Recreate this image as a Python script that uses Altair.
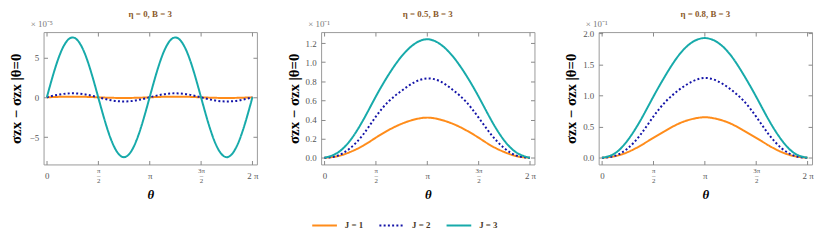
import altair as alt
import pandas as pd

# theta sample positions (radians, steps of pi/8)
theta = [0.0, 0.3927, 0.7854, 1.1781, 1.5708, 1.9635, 2.3562, 2.7489, 3.1416,
         3.5343, 3.9270, 4.3197, 4.7124, 5.1051, 5.4978, 5.8905, 6.2832]

J_labels = ["J = 1", "J = 2", "J = 3"]
panel_titles = ["η = 0, B = 3", "η = 0.5, B = 3", "η = 0.8, B = 3"]
scale_notes = ["× 10⁻⁵", "× 10⁻¹", "× 10⁻¹"]

# Panel 1 (eta = 0), values in units of 1e-5
p1_j1 = [0, 0.06, 0.08, 0.06, 0, -0.06, -0.08, -0.06, 0, 0.06, 0.08, 0.06, 0, -0.06, -0.08, -0.06, 0]
p1_j2 = [0, 0.36, 0.50, 0.36, 0, -0.37, -0.52, -0.37, 0, 0.36, 0.50, 0.36, 0, -0.37, -0.52, -0.37, 0]
p1_j3 = [0, 5.3, 7.5, 5.3, 0, -5.3, -7.5, -5.3, 0, 5.3, 7.5, 5.3, 0, -5.3, -7.5, -5.3, 0]

# Panel 2 (eta = 0.5), values in units of 1e-1
p2_j1 = [0, 0.015, 0.06, 0.125, 0.21, 0.29, 0.355, 0.40, 0.42, 0.40, 0.355, 0.29, 0.21, 0.125, 0.06, 0.015, 0]
p2_j2 = [0, 0.02, 0.10, 0.24, 0.43, 0.59, 0.70, 0.79, 0.83, 0.80, 0.71, 0.59, 0.42, 0.24, 0.10, 0.02, 0]
p2_j3 = [0, 0.05, 0.18, 0.39, 0.64, 0.87, 1.06, 1.19, 1.24, 1.19, 1.06, 0.87, 0.64, 0.39, 0.18, 0.05, 0]

# Panel 3 (eta = 0.8), values in units of 1e-1
p3_j1 = [0, 0.025, 0.09, 0.195, 0.32, 0.44, 0.55, 0.62, 0.65, 0.62, 0.55, 0.44, 0.32, 0.195, 0.09, 0.025, 0]
p3_j2 = [0, 0.03, 0.15, 0.37, 0.66, 0.91, 1.09, 1.22, 1.28, 1.23, 1.10, 0.92, 0.66, 0.37, 0.15, 0.03, 0]
p3_j3 = [0, 0.07, 0.28, 0.60, 0.98, 1.34, 1.65, 1.85, 1.92, 1.85, 1.65, 1.34, 0.98, 0.60, 0.28, 0.07, 0]

panels = [[p1_j1, p1_j2, p1_j3], [p2_j1, p2_j2, p2_j3], [p3_j1, p3_j2, p3_j3]]
y_domains = [[-8.41, 8.17], [-0.07, 1.315], [-0.107, 2.016]]
y_ticks = [[-5, 0, 5], [0, 0.2, 0.4, 0.6, 0.8, 1.0, 1.2], [0, 0.5, 1.0, 1.5, 2.0]]
y_formats = ["d", ".1f", ".1f"]
x_ticks = [0, 1.5708, 3.1416, 4.7124, 6.2832]

colors = ["#FF8C1A", "#1414A8", "#17AAAA"]
dashes = [[1, 0], [2, 2.3], [1, 0]]

SERIF = "Liberation Serif"
LABEL_GREY = "#555555"
W, H = 216, 134

x_label_expr = ("datum.value < 0.5 ? ['', '0'] : datum.value < 2 ? ['π', '–', '2'] : "
                "datum.value < 4 ? ['', 'π'] : datum.value < 5.5 ? ['3π', '–', '2'] : ['', '2 π']")
frac_test = "(datum.value > 1 && datum.value < 2) || (datum.value > 4 && datum.value < 5.5)"


def make_panel(i):
    rows = []
    for j, series in enumerate(panels[i]):
        for t, v in zip(theta, series):
            rows.append({"theta": t, "v": v, "J": J_labels[j]})
    df = pd.DataFrame(rows)
    xs = alt.Scale(domain=[-0.1, 6.42], nice=False, zero=False)
    ys = alt.Scale(domain=y_domains[i], nice=False, zero=False)

    lines = alt.Chart(df).mark_line(strokeWidth=2, interpolate="natural").encode(
        x=alt.X("theta:Q", scale=xs,
                axis=alt.Axis(values=x_ticks, labelExpr=x_label_expr, title="θ",
                              offset=-4, tickSize=4, tickColor="#888", domain=False,
                              grid=False, labelPadding=2, labelOverlap=False,
                              labelFlush=False, labelFont=SERIF,
                              labelFontSize={"condition": {"test": frac_test, "value": 7}, "value": 9},
                              labelColor=LABEL_GREY, labelBaseline="top",
                              labelLineHeight=5,
                              titleFont=SERIF, titleFontSize=13, titleFontStyle="italic",
                              titleFontWeight="bold", titleColor="#000",
                              titleY=34, titleBaseline="middle")),
        y=alt.Y("v:Q", scale=ys,
                axis=alt.Axis(values=y_ticks[i], format=y_formats[i],
                              title="σzx   −   σzx |θ=0",
                              offset=-4, tickSize=4, tickColor="#888", domain=False,
                              grid=False, labelPadding=5, labelOverlap=False,
                              labelFlush=False, labelFont=SERIF, labelFontSize=9,
                              labelColor=LABEL_GREY,
                              titleFont=SERIF, titleFontSize=15, titleFontWeight="bold",
                              titleColor="#000", titleX=-32, titleY=H / 2,
                              titleBaseline="middle", titleAngle=270)),
        color=alt.Color("J:N", scale=alt.Scale(domain=J_labels, range=colors),
                        legend=alt.Legend(title=None)),
        strokeDash=alt.StrokeDash("J:N", scale=alt.Scale(domain=J_labels, range=dashes),
                                  legend=alt.Legend(title=None)),
    )

    mirror = alt.Chart(df).mark_line(opacity=0).encode(
        x=alt.X("theta:Q", scale=xs,
                axis=alt.Axis(orient="top", values=x_ticks, labels=False, title=None,
                              offset=-4, tickSize=4, tickColor="#888", domain=False, grid=False)),
        y=alt.Y("v:Q", scale=ys,
                axis=alt.Axis(orient="right", values=y_ticks[i], labels=False, title=None,
                              offset=-4, tickSize=4, tickColor="#888", domain=False, grid=False)),
        detail="J:N",
    )

    note = alt.Chart(pd.DataFrame({"t": [scale_notes[i]]})).mark_text(
        align="left", baseline="middle", font=SERIF, fontSize=9, color="#777"
    ).encode(x=alt.value(-13), y=alt.value(-8), text="t:N")

    return alt.layer(lines, mirror, note).resolve_axis(
        x="independent", y="independent"
    ).properties(
        width=W, height=H,
        title=alt.TitleParams(panel_titles[i], font=SERIF, fontSize=9, fontWeight="bold",
                              color="#8B5A2B", frame="group", offset=1),
    )


chart = alt.hconcat(make_panel(0), make_panel(1), make_panel(2), spacing=65, bounds="flush")
chart = chart.properties(padding=0).configure_view(stroke="#999999", strokeWidth=1).configure_legend(
    orient="none", legendX=271, legendY=182, direction="horizontal",
    symbolType="stroke", symbolSize=625, symbolStrokeWidth=2,
    labelFont=SERIF, labelFontSize=9, labelFontWeight="bold", labelColor="#4a3a2a",
    columnPadding=12, labelOffset=7,
)

chart.save("out.html", embed_options={"renderer": "svg", "actions": False})
